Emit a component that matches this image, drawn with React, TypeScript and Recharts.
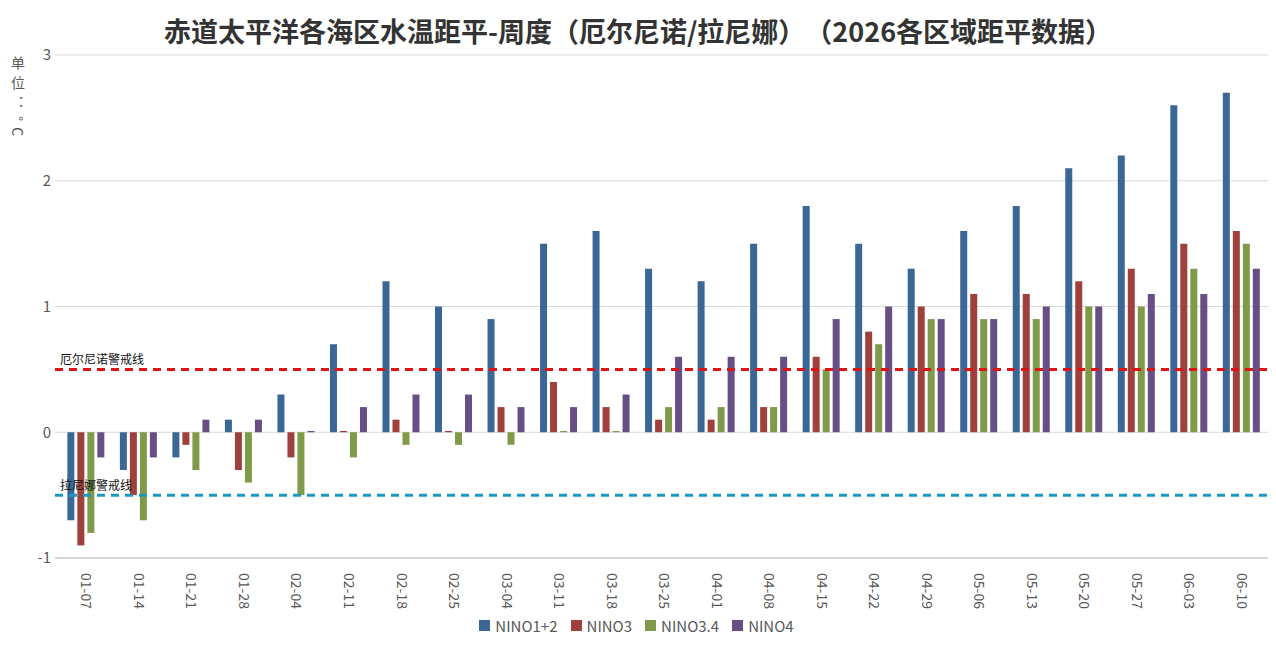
import React from 'react';
import { BarChart, Bar, XAxis, YAxis, CartesianGrid, Legend, ReferenceLine } from 'recharts';

const weeks = [
  '01-07', '01-14', '01-21', '01-28', '02-04', '02-11', '02-18', '02-25', '03-04', '03-11', '03-18', '03-25',
  '04-01', '04-08', '04-15', '04-22', '04-29', '05-06', '05-13', '05-20', '05-27', '06-03', '06-10',
];
const nino12 = [-0.7, -0.3, -0.2, 0.1, 0.3, 0.7, 1.2, 1.0, 0.9, 1.5, 1.6, 1.3, 1.2, 1.5, 1.8, 1.5, 1.3, 1.6, 1.8, 2.1, 2.2, 2.6, 2.7];
const nino3 = [-0.9, -0.5, -0.1, -0.3, -0.2, 0.01, 0.1, 0.01, 0.2, 0.4, 0.2, 0.1, 0.1, 0.2, 0.6, 0.8, 1.0, 1.1, 1.1, 1.2, 1.3, 1.5, 1.6];
const nino34 = [-0.8, -0.7, -0.3, -0.4, -0.5, -0.2, -0.1, -0.1, -0.1, 0.01, 0.01, 0.2, 0.2, 0.2, 0.5, 0.7, 0.9, 0.9, 0.9, 1.0, 1.0, 1.3, 1.5];
const nino4 = [-0.2, -0.2, 0.1, 0.1, 0.01, 0.2, 0.3, 0.3, 0.2, 0.2, 0.3, 0.6, 0.6, 0.6, 0.9, 1.0, 0.9, 0.9, 1.0, 1.0, 1.1, 1.1, 1.3];
const yTicks = [-1, 0, 1, 2, 3];
const elNinoLevel = 0.5;
const laNinaLevel = -0.5;

const SERIES = [
  { key: 'NINO1+2', color: '#3b6797' },
  { key: 'NINO3', color: '#a0403c' },
  { key: 'NINO3.4', color: '#7f9a48' },
  { key: 'NINO4', color: '#674f86' },
];

const data = weeks.map((w, i) => ({
  week: w,
  'NINO1+2': nino12[i],
  NINO3: nino3[i],
  'NINO3.4': nino34[i],
  NINO4: nino4[i],
}));

const FONT = '"Noto Sans CJK SC", "Noto Sans", sans-serif';

function WeekTick({ x, y, payload }: any) {
  return (
    <text
      x={x}
      y={y + 7}
      transform={`rotate(90, ${x}, ${y + 7})`}
      textAnchor="start"
      dy="0.35em"
      fontSize={14}
      fill="#595959"
      fontFamily={FONT}
    >
      {payload.value}
    </text>
  );
}

function lineLabel(text: string) {
  return ({ viewBox }: any) => (
    <text x={viewBox.x + 5} y={viewBox.y - 5} fontSize={12} fill="#111" fontFamily={FONT}>
      {text}
    </text>
  );
}

function LegendRow({ payload }: any) {
  return (
    <div style={{ display: 'flex', justifyContent: 'center', alignItems: 'center', gap: 13, fontSize: 15, color: '#595959' }}>
      {(payload || []).map((p: any) => (
        <span key={p.value} style={{ display: 'inline-flex', alignItems: 'center' }}>
          <span style={{ display: 'inline-block', width: 11, height: 11, background: p.color, marginRight: 5 }} />
          {p.value}
        </span>
      ))}
    </div>
  );
}

export default function App() {
  return (
    <div style={{ position: 'absolute', left: 0, top: 0, width: 1276, height: 651, background: '#fff', fontFamily: FONT }}>
      <style>{'body{margin:0}'}</style>
      <div
        style={{
          position: 'absolute',
          top: 11,
          left: 0,
          width: 1276,
          textAlign: 'center',
          fontSize: 27,
          fontWeight: 700,
          color: '#333',
          lineHeight: '40px',
          textSpacingTrim: 'space-all',
        } as any}
      >
        赤道太平洋各海区水温距平-周度（厄尔尼诺/拉尼娜）（2026各区域距平数据）
      </div>
      <div
        style={{
          position: 'absolute',
          top: 56,
          left: 8,
          writingMode: 'vertical-rl',
          fontSize: 14,
          letterSpacing: 6,
          color: '#595959',
        }}
      >
        单位：°C
      </div>
      <BarChart
        width={1276}
        height={651}
        data={data}
        margin={{ top: 55, right: 8, bottom: 12, left: 5 }}
        barCategoryGap="14%"
        barGap={3}
      >
        <CartesianGrid vertical={false} stroke="#d9d9d9" />
        <XAxis
          dataKey="week"
          height={57}
          interval={0}
          padding={{ left: 5, right: 0 }}
          tickLine={false}
          axisLine={{ stroke: '#bfbfbf' }}
          tick={<WeekTick />}
        />
        <YAxis
          width={50}
          domain={[-1, 3]}
          ticks={yTicks}
          axisLine={false}
          tickLine={false}
          tickSize={2}
          tickMargin={2}
          tick={{ fontSize: 15, fill: '#595959', fontFamily: FONT }}
        />
        <Legend verticalAlign="bottom" align="center" height={24} content={<LegendRow />} />
        {SERIES.map((s) => (
          <Bar key={s.key} dataKey={s.key} fill={s.color} isAnimationActive={false} />
        ))}
        <ReferenceLine
          y={elNinoLevel}
          stroke="#dd1414"
          strokeWidth={3}
          strokeDasharray="8 6"
          label={lineLabel('厄尔尼诺警戒线')}
        />
        <ReferenceLine
          y={laNinaLevel}
          stroke="#1a98c0"
          strokeWidth={3}
          strokeDasharray="8 6"
          label={lineLabel('拉尼娜警戒线')}
        />
      </BarChart>
    </div>
  );
}
